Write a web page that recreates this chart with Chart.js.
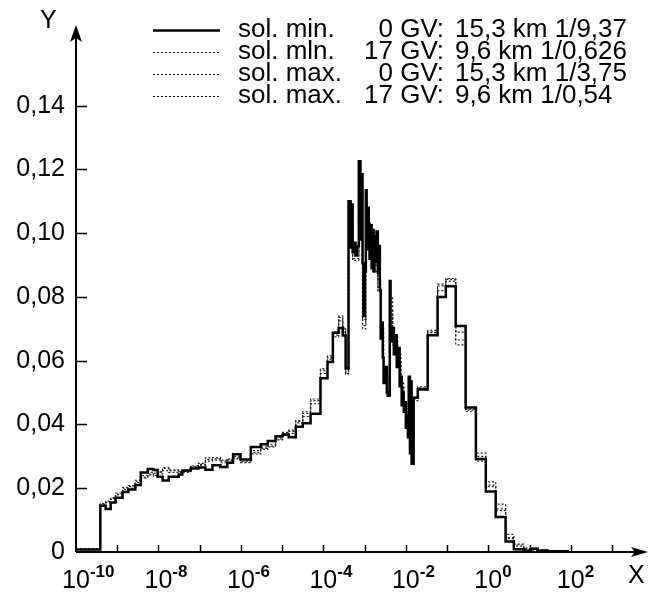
<!DOCTYPE html>
<html>
<head>
<meta charset="utf-8">
<script src="https://cdn.jsdelivr.net/npm/chart.js@4.4.0/dist/chart.umd.min.js"></script>
<style>
  body { margin: 0; background: #fff; }
  #wrap { width: 652px; height: 599px; }
</style>
</head>
<body>
<div id="wrap"><canvas id="spectrum"></canvas></div>
<script>
// bin edges are given as log10(X); each value holds until the next edge
const solidEdges = [
  -10.00, -9.41, -9.28, -9.16, -9.04, -8.87, -8.73, -8.56, -8.43, -8.26,
  -8.12, -8.02, -7.90, -7.75, -7.51, -7.42, -7.22, -7.03, -6.86, -6.69,
  -6.50, -6.33, -6.19, -6.01, -5.76, -5.52, -5.35, -5.16, -4.99, -4.84,
  -4.67, -4.50, -4.31, -4.07, -3.90, -3.77, -3.63, -3.53, -3.46,
  -3.39, -3.34, -3.31, -3.29, -3.24, -3.22, -3.19, -3.14, -3.10, -3.07,
  -3.05, -3.02, -3.00, -2.97, -2.95, -2.92, -2.90, -2.88, -2.85, -2.83,
  -2.80, -2.78, -2.76, -2.73, -2.71, -2.68, -2.66, -2.63, -2.61, -2.58,
  -2.56, -2.54, -2.49, -2.46, -2.44, -2.39, -2.37, -2.34, -2.29, -2.27,
  -2.22, -2.20, -2.15, -2.12, -2.10, -2.08, -2.05, -2.03, -2.00, -1.98,
  -1.95, -1.93, -1.90, -1.88, -1.86, -1.81,
  -1.71, -1.47, -1.23, -1.03, -0.79, -0.55, -0.30, -0.06, 0.18, 0.42,
  0.62, 0.86, 1.03, 1.20, 1.44, 1.93
];
const solMin0 = [
  0.0008, 0.0145, 0.0135, 0.0155, 0.0170, 0.0188, 0.0196, 0.0210, 0.0249, 0.0260,
  0.0257, 0.0236, 0.0224, 0.0236, 0.0243, 0.0256, 0.0262, 0.0265, 0.0258, 0.0272,
  0.0267, 0.0280, 0.0307, 0.0290, 0.0329, 0.0338, 0.0348, 0.0363, 0.0368, 0.0360,
  0.0393, 0.0404, 0.0434, 0.0545, 0.0596, 0.0688, 0.0703, 0.0679, 0.0576,
  0.1100, 0.0955, 0.1090, 0.0940, 0.0970, 0.0930, 0.0960, 0.1226, 0.0980, 0.1185,
  0.0906, 0.0740, 0.0880, 0.1135, 0.0950, 0.1080, 0.1030, 0.0920, 0.1025, 0.0890,
  0.1010, 0.0880, 0.0990, 0.0910, 0.1005, 0.0876, 0.0960, 0.0820, 0.0670, 0.0720,
  0.0610, 0.0530, 0.0580, 0.0500, 0.0490, 0.0850, 0.0660, 0.0703, 0.0620, 0.0680,
  0.0580, 0.0640, 0.0520, 0.0550, 0.0460, 0.0500, 0.0440, 0.0470, 0.0390, 0.0430,
  0.0360, 0.0550, 0.0310, 0.0535, 0.0277, 0.0484,
  0.0510, 0.0680, 0.0800, 0.0834, 0.0709, 0.0453, 0.0292, 0.0190, 0.0110, 0.0033,
  0.0009, 0.0003, 0.0010, 0.0005, 0.0002, 0
];

const dotEdges = [
  -10.00, -9.41, -9.28, -9.16, -9.04, -8.87, -8.73, -8.56, -8.43, -8.26,
  -8.12, -8.02, -7.90, -7.75, -7.51, -7.42, -7.22, -7.03, -6.86, -6.69,
  -6.50, -6.33, -6.19, -6.01, -5.76, -5.52, -5.35, -5.16, -4.99, -4.84,
  -4.67, -4.50, -4.31, -4.07, -3.90, -3.77, -3.63, -3.53, -3.46, -3.39,
  -3.29, -3.14, -3.05, -2.97, -2.90, -2.80, -2.68, -2.61, -2.54, -2.44,
  -2.39, -2.32, -2.20, -2.12, -2.05, -1.98, -1.93, -1.88, -1.81, -1.71,
  -1.47, -1.23, -1.03, -0.79, -0.55, -0.30, -0.06, 0.18, 0.42, 0.62,
  0.86, 1.03, 1.20, 1.44, 1.93
];
const solMin17 = [
  0.0008, 0.0150, 0.0158, 0.0168, 0.0182, 0.0200, 0.0205, 0.0222, 0.0235, 0.0245,
  0.0240, 0.0250, 0.0262, 0.0255, 0.0250, 0.0252, 0.0268, 0.0275, 0.0290, 0.0292,
  0.0285, 0.0290, 0.0295, 0.0285, 0.0312, 0.0325, 0.0332, 0.0355, 0.0372, 0.0378,
  0.0410, 0.0435, 0.0475, 0.0570, 0.0610, 0.0680, 0.0735, 0.0700, 0.0560, 0.1050,
  0.0920, 0.1150, 0.0710, 0.1050, 0.0980, 0.0900, 0.0830, 0.0700, 0.0560, 0.0500,
  0.0760, 0.0660, 0.0600, 0.0520, 0.0460, 0.0420, 0.0500, 0.0350, 0.0480, 0.0515,
  0.0690, 0.0820, 0.0855, 0.0690, 0.0445, 0.0300, 0.0210, 0.0135, 0.0045, 0.0022,
  0.0012, 0.0007, 0.0004, 0.0002, 0
];
const solMax0 = [
  0.0008, 0.0148, 0.0155, 0.0165, 0.0180, 0.0196, 0.0200, 0.0218, 0.0240, 0.0250,
  0.0247, 0.0245, 0.0255, 0.0250, 0.0248, 0.0255, 0.0265, 0.0272, 0.0285, 0.0288,
  0.0280, 0.0286, 0.0300, 0.0282, 0.0318, 0.0330, 0.0338, 0.0360, 0.0370, 0.0372,
  0.0405, 0.0425, 0.0465, 0.0560, 0.0605, 0.0690, 0.0725, 0.0690, 0.0565, 0.1080,
  0.0935, 0.1180, 0.0730, 0.1080, 0.1000, 0.0950, 0.0850, 0.0680, 0.0550, 0.0495,
  0.0800, 0.0680, 0.0620, 0.0530, 0.0450, 0.0410, 0.0520, 0.0320, 0.0475, 0.0512,
  0.0695, 0.0835, 0.0850, 0.0665, 0.0440, 0.0310, 0.0220, 0.0150, 0.0055, 0.0025,
  0.0008, 0.0012, 0.0006, 0.0003, 0
];
const solMax17 = [
  0.0008, 0.0152, 0.0160, 0.0170, 0.0185, 0.0203, 0.0208, 0.0225, 0.0232, 0.0242,
  0.0238, 0.0252, 0.0265, 0.0258, 0.0252, 0.0250, 0.0270, 0.0278, 0.0295, 0.0296,
  0.0288, 0.0292, 0.0292, 0.0280, 0.0308, 0.0322, 0.0330, 0.0352, 0.0375, 0.0382,
  0.0412, 0.0440, 0.0480, 0.0575, 0.0615, 0.0675, 0.0740, 0.0705, 0.0558, 0.1040,
  0.0915, 0.1130, 0.0700, 0.1030, 0.0970, 0.0880, 0.0820, 0.0710, 0.0570, 0.0505,
  0.0740, 0.0650, 0.0590, 0.0515, 0.0465, 0.0425, 0.0490, 0.0360, 0.0485, 0.0518,
  0.0688, 0.0840, 0.0858, 0.0650, 0.0448, 0.0285, 0.0205, 0.0130, 0.0042, 0.0018,
  0.0010, 0.0006, 0.0003, 0.0002, 0
];

const legendNames = ['sol. min.', 'sol. mln.', 'sol. max.', 'sol. max.'];
const legendCutoffs = ['0 GV:', '17 GV:', '0 GV:', '17 GV:'];
const legendDepths = ['15,3 km 1/9,37', '9,6 km 1/0,626', '15,3 km 1/3,75', '9,6 km 1/0,54'];

const yTicks = [0, 0.02, 0.04, 0.06, 0.08, 0.10, 0.12, 0.14];
const xDecades = [-10, -9, -8, -7, -6, -5, -4, -3, -2, -1, 0, 1, 2, 3];
const xLabelled = [-10, -8, -6, -4, -2, 0, 2];

const FONT = '"Liberation Sans", Arial, sans-serif';

function toPoints(edges, vals) {
  return edges.map((e, i) => ({ x: Math.pow(10, e), y: vals[i] }));
}

const seriesVals = [solMin0, solMin17, solMax0, solMax17];
const datasets = seriesVals.map((vals, i) => ({
  label: legendNames[i] + ' ' + legendCutoffs[i] + ' ' + legendDepths[i],
  data: toPoints(i === 0 ? solidEdges : dotEdges, vals),
  stepped: 'before',
  borderColor: i === 0 ? '#000' : '#222',
  borderWidth: i === 0 ? 2.5 : 1.2,
  borderDash: i === 0 ? [] : [2, 2],
  pointRadius: 0,
  fill: false,
  tension: 0
}));

// axes with arrows, inward ticks, power-of-ten labels, axis letters and the legend
const decorPlugin = {
  id: 'decor',
  afterDraw(chart) {
    const { ctx, chartArea: a, scales: { x, y } } = chart;
    ctx.save();
    ctx.strokeStyle = '#000';
    ctx.fillStyle = '#000';
    ctx.lineWidth = 2;
    ctx.beginPath();
    ctx.moveTo(a.left, a.bottom); ctx.lineTo(a.left, a.top + 10);
    ctx.moveTo(a.left, a.bottom); ctx.lineTo(a.right - 10, a.bottom);
    ctx.stroke();
    ctx.beginPath();
    ctx.moveTo(a.left, a.top - 1);
    ctx.lineTo(a.left - 6, a.top + 16);
    ctx.lineTo(a.left, a.top + 12);
    ctx.lineTo(a.left + 6, a.top + 16);
    ctx.closePath(); ctx.fill();
    ctx.beginPath();
    ctx.moveTo(a.right + 1, a.bottom);
    ctx.lineTo(a.right - 16, a.bottom - 5);
    ctx.lineTo(a.right - 12, a.bottom);
    ctx.lineTo(a.right - 16, a.bottom + 5);
    ctx.closePath(); ctx.fill();

    ctx.lineWidth = 1.5;
    ctx.beginPath();
    yTicks.forEach(v => {
      if (v === 0) return;
      const py = Math.round(y.getPixelForValue(v)) + 0.5;
      ctx.moveTo(a.left, py); ctx.lineTo(a.left + 11, py);
    });
    xDecades.forEach(e => {
      if (e === -10) return;
      const px = Math.round(x.getPixelForValue(Math.pow(10, e))) + 0.5;
      ctx.moveTo(px, a.bottom); ctx.lineTo(px, a.bottom - 7);
    });
    ctx.stroke();

    // 10 with raised exponent
    ctx.textBaseline = 'alphabetic';
    xLabelled.forEach(e => {
      const px = x.getPixelForValue(Math.pow(10, e));
      ctx.font = '25px ' + FONT;
      ctx.textAlign = 'center';
      ctx.fillText('10', px, a.bottom + 36);
      const w = ctx.measureText('10').width;
      ctx.font = 'bold 17px ' + FONT;
      ctx.textAlign = 'left';
      ctx.fillText(String(e), px + w / 2, a.bottom + 25);
    });

    ctx.font = '25px ' + FONT;
    ctx.textBaseline = 'middle';
    ctx.textAlign = 'left';
    ctx.fillText('Y', 40, 21);
    ctx.fillText('X', 628, 576);

    // legend
    const rows = [30, 52, 74, 96];
    ctx.font = '26px ' + FONT;
    rows.forEach((ry, i) => {
      ctx.beginPath();
      if (i === 0) { ctx.lineWidth = 2.5; ctx.setLineDash([]); }
      else { ctx.lineWidth = 1.2; ctx.setLineDash([2, 2]); }
      ctx.moveTo(153, ry + 0.5); ctx.lineTo(220, ry + 0.5);
      ctx.stroke();
      ctx.setLineDash([]);
      ctx.textAlign = 'left';
      ctx.fillText(legendNames[i], 238, ry);
      ctx.textAlign = 'right';
      ctx.fillText(legendCutoffs[i], 444, ry);
      ctx.textAlign = 'left';
      ctx.fillText(legendDepths[i], 455, ry);
    });
    ctx.restore();
  }
};

Chart.defaults.font.family = FONT;
Chart.defaults.font.size = 25;
Chart.defaults.color = '#000';

new Chart(document.getElementById('spectrum'), {
  type: 'line',
  data: { datasets: datasets },
  options: {
    responsive: true,
    maintainAspectRatio: false,
    animation: false,
    devicePixelRatio: 1,
    layout: { padding: { top: 7.5, right: 5, left: 0, bottom: 0 } },
    plugins: { legend: { display: false }, tooltip: { enabled: false } },
    scales: {
      x: {
        type: 'logarithmic',
        min: 1e-10,
        max: Math.pow(10, 3.85),
        grid: { display: false, drawTicks: false },
        border: { display: false },
        afterBuildTicks: s => { s.ticks = xDecades.map(e => ({ value: Math.pow(10, e) })); },
        afterFit: s => { s.height = 47; },
        ticks: { autoSkip: false, maxRotation: 0, callback: () => '' }
      },
      y: {
        type: 'linear',
        min: 0,
        max: 0.165,
        grid: { display: false, drawTicks: false },
        border: { display: false },
        afterBuildTicks: s => { s.ticks = yTicks.map(v => ({ value: v })); },
        afterFit: s => { s.width = 76; },
        ticks: {
          padding: 11,
          callback: v => v === 0 ? '0' : v.toFixed(2).replace('.', ',')
        }
      }
    }
  },
  plugins: [decorPlugin]
});
</script>
</body>
</html>
